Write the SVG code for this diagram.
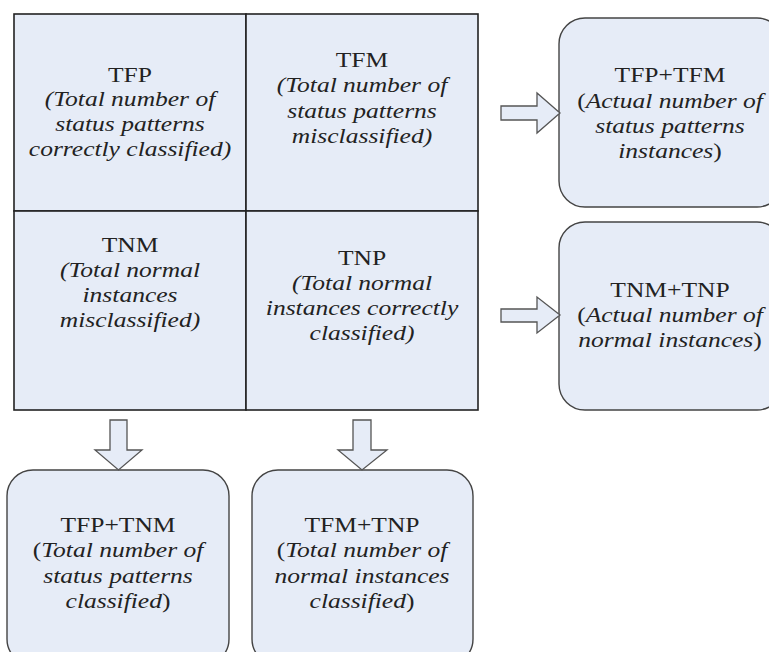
<svg xmlns="http://www.w3.org/2000/svg" width="769" height="652" viewBox="0 0 769 652">
  <style>
    .cell { fill: #e6ecf7; stroke: #222; stroke-width: 1.6; }
    .box { fill: #e6ecf7; stroke: #444; stroke-width: 1.4; }
    .arrow { fill: #e6ecf7; stroke: #555; stroke-width: 1.3; stroke-linejoin: miter; }
    text { font-family: "Liberation Serif", "Times New Roman", serif; font-size: 22px; fill: #222; text-anchor: middle; }
    .it { font-style: italic; }
    .up { font-style: normal; }
  </style>
  <rect width="769" height="652" fill="#ffffff"/>

  <!-- confusion matrix cells -->
  <g id="tfp">
    <rect class="cell" x="14" y="14" width="232" height="197"/>
    <g transform="translate(130 0) scale(1.16 1)">
      <text y="82">TFP</text>
      <text class="it" y="106">(Total number of</text>
      <text class="it" y="131">status patterns</text>
      <text class="it" y="156">correctly classified)</text>
    </g>
  </g>
  <g id="tfm">
    <rect class="cell" x="246" y="14" width="232" height="197"/>
    <g transform="translate(362 0) scale(1.16 1)">
      <text y="67">TFM</text>
      <text class="it" y="92">(Total number of</text>
      <text class="it" y="118">status patterns</text>
      <text class="it" y="143">misclassified)</text>
    </g>
  </g>
  <g id="tnm">
    <rect class="cell" x="14" y="211" width="232" height="199"/>
    <g transform="translate(130 0) scale(1.16 1)">
      <text y="252">TNM</text>
      <text class="it" y="277">(Total normal</text>
      <text class="it" y="302">instances</text>
      <text class="it" y="327">misclassified)</text>
    </g>
  </g>
  <g id="tnp">
    <rect class="cell" x="246" y="211" width="232" height="199"/>
    <g transform="translate(362 0) scale(1.16 1)">
      <text y="265">TNP</text>
      <text class="it" y="290">(Total normal</text>
      <text class="it" y="315">instances correctly</text>
      <text class="it" y="340">classified)</text>
    </g>
  </g>

  <!-- row and column totals -->
  <g id="tfp-tfm">
    <rect class="box" x="559" y="18" width="224" height="189" rx="26"/>
    <g transform="translate(670 0) scale(1.16 1)">
      <text y="82">TFP+TFM</text>
      <text class="it" y="108"><tspan class="up">(</tspan>Actual number of</text>
      <text class="it" y="133">status patterns</text>
      <text class="it" y="158">instances<tspan class="up">)</tspan></text>
    </g>
  </g>
  <g id="tnm-tnp">
    <rect class="box" x="559" y="222" width="224" height="188" rx="26"/>
    <g transform="translate(670 0) scale(1.16 1)">
      <text y="297">TNM+TNP</text>
      <text class="it" y="322"><tspan class="up">(</tspan>Actual number of</text>
      <text class="it" y="347">normal instances<tspan class="up">)</tspan></text>
    </g>
  </g>
  <g id="tfp-tnm">
    <rect class="box" x="7" y="470" width="222" height="195" rx="26"/>
    <g transform="translate(118 0) scale(1.16 1)">
      <text y="532">TFP+TNM</text>
      <text class="it" y="557"><tspan class="up">(</tspan>Total number of</text>
      <text class="it" y="583">status patterns</text>
      <text class="it" y="608">classified<tspan class="up">)</tspan></text>
    </g>
  </g>
  <g id="tfm-tnp">
    <rect class="box" x="252" y="470" width="221" height="195" rx="26"/>
    <g transform="translate(362 0) scale(1.16 1)">
      <text y="532">TFM+TNP</text>
      <text class="it" y="557"><tspan class="up">(</tspan>Total number of</text>
      <text class="it" y="583">normal instances</text>
      <text class="it" y="608">classified<tspan class="up">)</tspan></text>
    </g>
  </g>

  <!-- block arrows -->
  <g id="connectors">
    <path class="arrow" d="M501 106 H537 V93 L560 113 L537 133 V120 H501 Z"/>
    <path class="arrow" d="M501 309 H537 V297 L560 315 L537 333 V322 H501 Z"/>
    <path class="arrow" d="M110 420 H127 V450 H142 L118.5 470 L95 450 H110 Z"/>
    <path class="arrow" d="M353 420 H371 V450 H387 L362 470 L338 450 H353 Z"/>
  </g>
</svg>
